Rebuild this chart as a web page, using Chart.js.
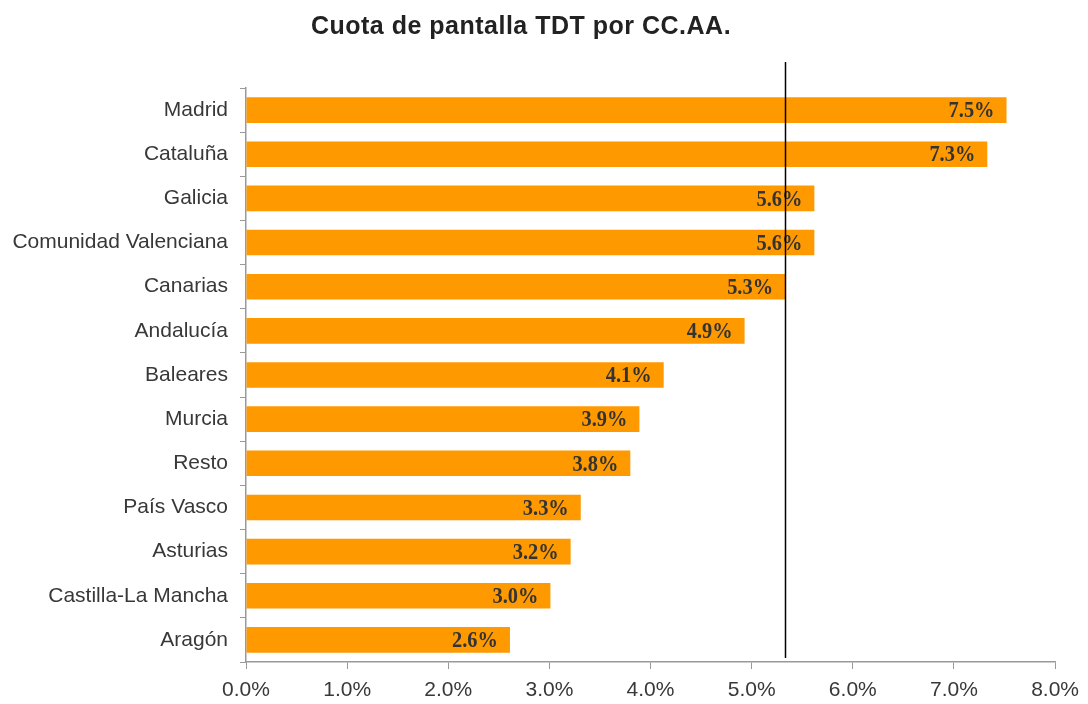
<!DOCTYPE html>
<html>
<head>
<meta charset="utf-8">
<script src="https://cdn.jsdelivr.net/npm/chart.js@4"></script>
<style>
  html, body { margin: 0; padding: 0; background: #fff; }
  #wrap { width: 1088px; height: 704px; }
</style>
</head>
<body>
<div id="wrap"><canvas id="chart"></canvas></div>
<script>
// data
const regions = ['Madrid', 'Cataluña', 'Galicia', 'Comunidad Valenciana', 'Canarias', 'Andalucía',
  'Baleares', 'Murcia', 'Resto', 'País Vasco', 'Asturias', 'Castilla-La Mancha', 'Aragón'];
const shares = [7.52, 7.33, 5.62, 5.62, 5.33, 4.93, 4.13, 3.89, 3.80, 3.31, 3.21, 3.01, 2.61];
const average = 5.33;
const xTicks = [0, 1, 2, 3, 4, 5, 6, 7, 8];
const titleText = 'Cuota de pantalla TDT por CC.AA.';

// 🟢 title + average line + value labels
const extras = {
  id: 'extras',
  afterDatasetsDraw(chart) {
    const ctx = chart.ctx;
    const area = chart.chartArea;
    const x = chart.scales.x;

    // value labels inside bar ends (narrow, tall serif like the source)
    const meta = chart.getDatasetMeta(0);
    meta.data.forEach((bar, i) => {
      ctx.save();
      ctx.translate(bar.x - 12, bar.y + 1);
      ctx.scale(0.85, 1);
      ctx.font = 'bold 24px "Liberation Serif", "DejaVu Serif", serif';
      ctx.fillStyle = '#333';
      ctx.textAlign = 'right';
      ctx.textBaseline = 'middle';
      ctx.fillText(shares[i].toFixed(1) + '%', 0, 0);
      ctx.restore();
    });

    // average line
    const ax = Math.round(x.getPixelForValue(average)) + 0.5;
    ctx.save();
    ctx.strokeStyle = '#000';
    ctx.lineWidth = 1.5;
    ctx.beginPath();
    ctx.moveTo(ax, area.top - 26);
    ctx.lineTo(ax, area.bottom - 4);
    ctx.stroke();
    ctx.restore();

    // title
    ctx.save();
    ctx.letterSpacing = '0.5px';
    ctx.font = 'bold 25px "Liberation Sans", Arial, sans-serif';
    ctx.fillStyle = '#222';
    ctx.textAlign = 'center';
    ctx.textBaseline = 'middle';
    ctx.fillText(titleText, 521, 27);
    ctx.restore();
  }
};

new Chart(document.getElementById('chart'), {
  type: 'bar',
  data: {
    labels: regions,
    datasets: [{
      data: shares,
      backgroundColor: '#FF9900',
      borderWidth: 0,
      barPercentage: 0.58,
      categoryPercentage: 1
    }]
  },
  options: {
    indexAxis: 'y',
    responsive: true,
    maintainAspectRatio: false,
    animation: false,
    layout: { padding: { top: 88, right: 24, left: 0, bottom: 0 } },
    plugins: {
      legend: { display: false },
      tooltip: { enabled: false },
      title: { display: false }
    },
    scales: {
      x: {
        min: 0,
        max: 8,
        afterBuildTicks: s => { s.ticks = xTicks.map(v => ({ value: v })); },
        afterFit: s => { s.height = 42; },
        grid: { drawOnChartArea: false, color: '#999', tickLength: 7 },
        border: { color: '#999', width: 1.5 },
        ticks: {
          color: '#383838',
          font: { family: '"Liberation Sans", Arial, sans-serif', size: 21 },
          padding: 9,
          maxRotation: 0,
          callback: v => v.toFixed(1) + '%'
        }
      },
      y: {
        afterFit: s => { s.width = 246; },
        grid: { drawOnChartArea: false, offset: true, color: '#999', tickLength: 6 },
        border: { color: '#999', width: 1.5 },
        ticks: {
          color: '#383838',
          font: { family: '"Liberation Sans", Arial, sans-serif', size: 21 },
          padding: 12
        }
      }
    }
  },
  plugins: [extras]
});
</script>
</body>
</html>
